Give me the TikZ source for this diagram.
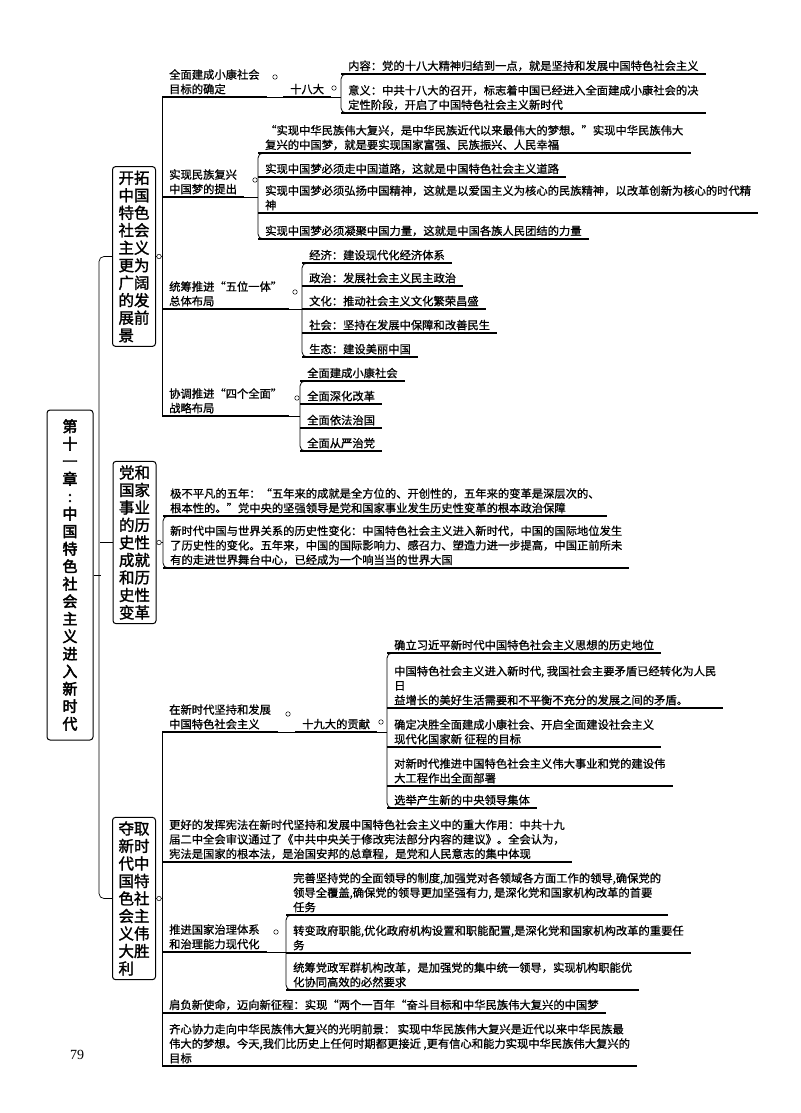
\documentclass[tikz,border=0pt]{standalone}
\usepackage{fontspec}
\newfontfamily\cjk{Noto Sans CJK SC}[FakeBold=0.9]
\newfontfamily\cjkbox{Noto Sans CJK SC}[FakeBold=1.6]
\newfontfamily\cjkbf{Noto Sans CJK SC}[FakeBold=2.8]
\newfontfamily\pgnum{Liberation Serif}
\begin{document}
\begin{tikzpicture}[x=1pt,y=-1pt,
  txt/.style={anchor=south west, inner xsep=7pt, inner ysep=2.5pt, align=left, font=\cjk\fontsize{11.3}{14.5}\selectfont},
  ul/.style={line width=1.4pt},
  thin/.style={line width=0.7pt},
  brk/.style={line width=0.8pt, rounded corners=5pt},
  vbox/.style={draw, line width=1pt, rounded corners=3pt, align=left, inner xsep=5pt, inner ysep=4pt, font=\cjkbox\fontsize{15.5}{17.5}\selectfont},
  dot/.style={circle, draw, fill=white, inner sep=0pt, minimum size=4.5pt, line width=0.5pt}]
\fill[white] (0,0) rectangle (800,1113);
\useasboundingbox (0,0) rectangle (800,1113);

% main and level-1 boxes
\node[vbox, align=center, font=\cjkbf\fontsize{15}{17.5}\selectfont, minimum width=46pt, minimum height=330pt, inner ysep=6pt] (m) at (70,575) {第\\十\\一\\章\\:\\中\\国\\特\\色\\社\\会\\主\\义\\进\\入\\新\\时\\代};
\node[vbox, minimum width=43pt] (b1) at (134,256.5) {开拓\\中国\\特色\\社会\\主义\\更为\\广阔\\的发\\展前\\景};
\node[vbox, minimum width=43pt] (b2) at (134.5,542.5) {党和\\国家\\事业\\的历\\史性\\成就\\和历\\史性\\变革};
\node[vbox, minimum width=43pt] (b3) at (134,898.5) {夺取\\新时\\代中\\国特\\色社\\会主\\义伟\\大胜\\利};

\draw[thin, rounded corners=5pt] (b1.west) -- ++(-13,0) |- (b3.west);
\draw[thin] (b2.west) -- ++(-13,0);
\draw[thin] (m.east) -- ++(7,0);

% branch 1
\node[txt] (p1) at (162,97) {全面建成小康社会\\目标的确定};
\node[txt] (q1) at (283,97) {十八大};
\node[txt] (c1) at (341,74) {内容：党的十八大精神归结到一点，就是坚持和发展中国特色社会主义};
\node[txt] (c2) at (341,113) {意义：中共十八大的召开，标志着中国已经进入全面建成小康社会的决\\定性阶段，开启了中国特色社会主义新时代};
\node[txt] (p2) at (162,197) {实现民族复兴\\中国梦的提出};
\node[txt] (c3) at (258,153) {“实现中华民族伟大复兴，是中华民族近代以来最伟大的梦想。”实现中华民族伟大\\复兴的中国梦，就是要实现国家富强、民族振兴、人民幸福};
\node[txt] (c4) at (258,177) {实现中国梦必须走中国道路，这就是中国特色社会主义道路};
\node[txt] (c5) at (258,213) {实现中国梦必须弘扬中国精神，这就是以爱国主义为核心的民族精神，以改革创新为核心的时代精\\神};
\node[txt] (c6) at (258,239) {实现中国梦必须凝聚中国力量，这就是中国各族人民团结的力量};
\node[txt] (p3) at (162,309) {统筹推进“五位一体”\\总体布局};
\node[txt] (c7) at (302,263) {经济：建设现代化经济体系};
\node[txt] (c8) at (302,286) {政治：发展社会主义民主政治};
\node[txt] (c9) at (302,309) {文化：推动社会主义文化繁荣昌盛};
\node[txt] (c10) at (302,333) {社会：坚持在发展中保障和改善民生};
\node[txt] (c11) at (302,357) {生态：建设美丽中国};
\node[txt] (p4) at (162,416) {协调推进“四个全面”\\战略布局};
\node[txt] (c12) at (300,381) {全面建成小康社会};
\node[txt] (c13) at (300,404) {全面深化改革};
\node[txt] (c14) at (300,428) {全面依法治国};
\node[txt] (c15) at (300,451) {全面从严治党};

% branch 2
\node[txt] (c16) at (163,516) {极不平凡的五年：“五年来的成就是全方位的、开创性的，五年来的变革是深层次的、\\根本性的。”党中央的坚强领导是党和国家事业发生历史性变革的根本政治保障};
\node[txt] (c17) at (163,568) {新时代中国与世界关系的历史性变化：中国特色社会主义进入新时代，中国的国际地位发生\\了历史性的变化。五年来，中国的国际影响力、感召力、塑造力进一步提高，中国正前所未\\有的走进世界舞台中心，已经成为一个响当当的世界大国};

% branch 3
\node[txt] (p5) at (162,732) {在新时代坚持和发展\\中国特色社会主义};
\node[txt] (q2) at (295,732) {十九大的贡献};
\node[txt] (c18) at (387,653) {确立习近平新时代中国特色社会主义思想的历史地位};
\node[txt] (c19) at (387,708) {中国特色社会主义进入新时代, 我国社会主要矛盾已经转化为人民\\日\\益增长的美好生活需要和不平衡不充分的发展之间的矛盾。};
\node[txt] (c20) at (387,747) {确定决胜全面建成小康社会、开启全面建设社会主义\\现代化国家新 征程的目标};
\node[txt] (c21) at (387,786) {对新时代推进中国特色社会主义伟大事业和党的建设伟\\大工程作出全面部署};
\node[txt] (c22) at (387,808) {选举产生新的中央领导集体};
\node[txt] (p6) at (162,862) {更好的发挥宪法在新时代坚持和发展中国特色社会主义中的重大作用：中共十九\\届二中全会审议通过了《中共中央关于修改宪法部分内容的建议》。全会认为，\\宪法是国家的根本法，是治国安邦的总章程，是党和人民意志的集中体现};
\node[txt] (p7) at (162,952) {推进国家治理体系\\和治理能力现代化};
\node[txt] (c23) at (286,915) {完善坚持党的全面领导的制度,加强党对各领域各方面工作的领导,确保党的\\领导全覆盖,确保党的领导更加坚强有力, 是深化党和国家机构改革的首要\\任务};
\node[txt] (c24) at (286,953) {转变政府职能,优化政府机构设置和职能配置,是深化党和国家机构改革的重要任\\务};
\node[txt] (c25) at (286,990) {统筹党政军群机构改革，是加强党的集中统一领导，实现机构职能优\\化协同高效的必然要求};
\node[txt] (p8) at (162,1013) {肩负新使命，迈向新征程：实现“两个一百年“奋斗目标和中华民族伟大复兴的中国梦};
\node[txt] (p9) at (162,1066) {齐心协力走向中华民族伟大复兴的光明前景： 实现中华民族伟大复兴是近代以来中华民族最\\伟大的梦想。今天,我们比历史上任何时期都更接近 ,更有信心和能力实现中华民族伟大复兴的\\目标};

\node[font=\pgnum\fontsize{14}{16}\selectfont] (pg) at (77,1055) {79};

% underlines
\foreach \n in {p1,p2,p3,p4,p5,p6,p7,p8,p9,q1,q2,c1,c2,c3,c4,c5,c6,c7,c8,c9,c10,c11,c12,c13,c14,c15,c16,c17,c18,c19,c20,c21,c22,c23,c24,c25}
  {\draw[ul] (\n.south west) -- (\n.south east);}

% connectors branch 1
\draw[thin] (b1.east) -- (b1.east -| p1.south west);
\draw[thin] (p1.south west) -- (p4.south west);
\draw[thin] (p1.south east) -- (q1.south west);
\draw[thin] (q1.south east) -- (q1.south east -| c1.south west);
\draw[brk] ([xshift=8pt]c1.south west) -- (c1.south west) -- (c2.south west) -- ([xshift=8pt]c2.south west);
\draw[thin] (p2.south east) -- (p2.south east -| c3.south west);
\draw[brk] ([xshift=8pt]c3.south west) -- (c3.south west) -- (c6.south west) -- ([xshift=8pt]c6.south west);
\draw[thin] (p3.south east) -- (p3.south east -| c7.south west);
\draw[brk] ([xshift=8pt]c7.south west) -- (c7.south west) -- (c11.south west) -- ([xshift=8pt]c11.south west);
\draw[thin] (p4.south east) -- (p4.south east -| c12.south west);
\draw[brk] ([xshift=8pt]c12.south west) -- (c12.south west) -- (c15.south west) -- ([xshift=8pt]c15.south west);

% connectors branch 2
\draw[thin] (b2.east) -- (b2.east -| c16.south west);
\draw[brk] ([xshift=8pt]c16.south west) -- (c16.south west) -- (c17.south west) -- ([xshift=8pt]c17.south west);

% connectors branch 3
\draw[thin] (b3.east) -- (b3.east -| p5.south west);
\draw[thin] (p5.south west) -- (p9.south west);
\draw[thin] (p5.south east) -- (q2.south west);
\draw[thin] (q2.south east) -- (q2.south east -| c18.south west);
\draw[brk] ([xshift=8pt]c18.south west) -- (c18.south west) -- (c22.south west) -- ([xshift=8pt]c22.south west);
\draw[thin] (p7.south east) -- (p7.south east -| c23.south west);
\draw[brk] ([xshift=8pt]c23.south west) -- (c23.south west) -- (c25.south west) -- ([xshift=8pt]c25.south west);

% collapse dots
\node[dot] (d1) at (159,256.5) {};
\node[dot] (d2) at (275,77) {};
\node[dot] (d3) at (334,88) {};
\node[dot] (d4) at (255,180) {};
\node[dot] (d5) at (295,292) {};
\node[dot] (d6) at (297,398) {};
\node[dot] (d7) at (159,542.5) {};
\node[dot] (d8) at (159,898.5) {};
\node[dot] (d9) at (288,714) {};
\node[dot] (d10) at (381,722) {};
\node[dot] (d11) at (276,932) {};
\end{tikzpicture}
\end{document}
